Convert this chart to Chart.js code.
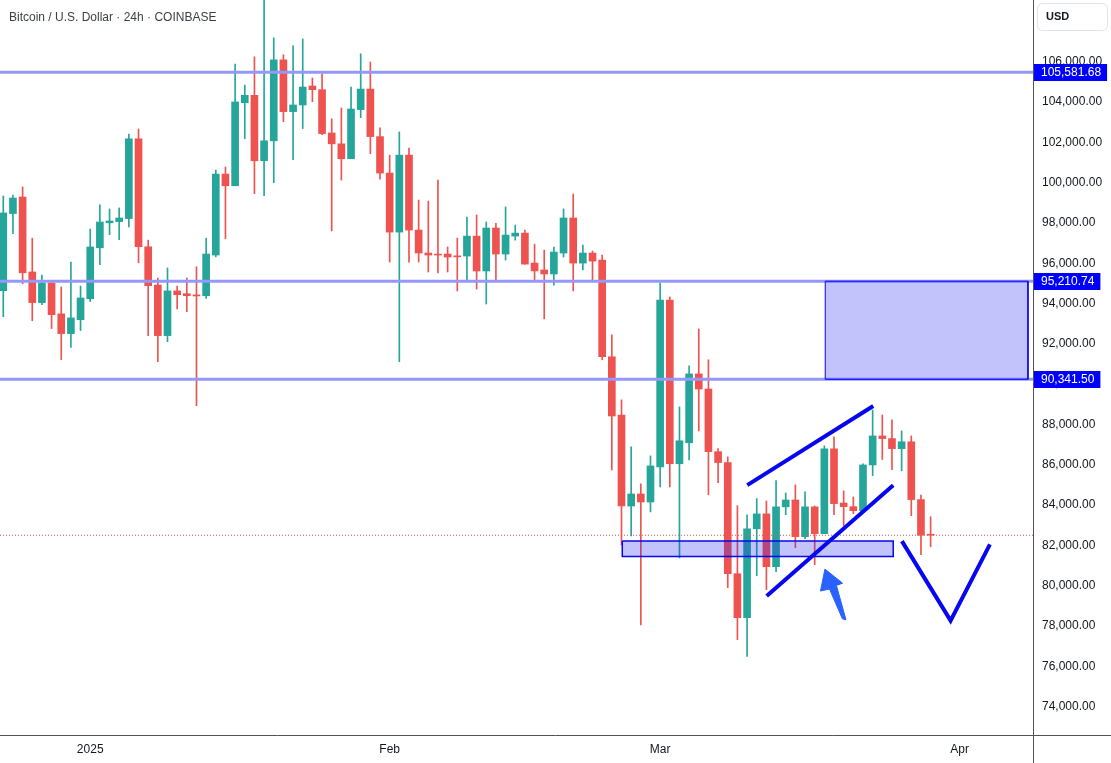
<!DOCTYPE html>
<html>
<head>
<meta charset="utf-8">
<title>BTCUSD 24h</title>
<script src="https://cdn.jsdelivr.net/npm/chart.js@4.4.1/dist/chart.umd.min.js"></script>
<style>
  html, body { margin: 0; padding: 0; background: #ffffff; }
  canvas { display: block; }
</style>
</head>
<body>
<canvas id="btcChart" width="1111" height="763"></canvas>
<script>
// --- DATA ---
const dates = [
  "2024-12-23", "2024-12-24", "2024-12-25", "2024-12-26", "2024-12-27", "2024-12-28", "2024-12-29", "2024-12-30", "2024-12-31",
  "2025-01-01", "2025-01-02", "2025-01-03", "2025-01-04", "2025-01-05", "2025-01-06", "2025-01-07", "2025-01-08", "2025-01-09", "2025-01-10",
  "2025-01-11", "2025-01-12", "2025-01-13", "2025-01-14", "2025-01-15", "2025-01-16", "2025-01-17", "2025-01-18", "2025-01-19", "2025-01-20",
  "2025-01-21", "2025-01-22", "2025-01-23", "2025-01-24", "2025-01-25", "2025-01-26", "2025-01-27", "2025-01-28", "2025-01-29", "2025-01-30", "2025-01-31",
  "2025-02-01", "2025-02-02", "2025-02-03", "2025-02-04", "2025-02-05", "2025-02-06", "2025-02-07", "2025-02-08", "2025-02-09", "2025-02-10",
  "2025-02-11", "2025-02-12", "2025-02-13", "2025-02-14", "2025-02-15", "2025-02-16", "2025-02-17", "2025-02-18", "2025-02-19", "2025-02-20",
  "2025-02-21", "2025-02-22", "2025-02-23", "2025-02-24", "2025-02-25", "2025-02-26", "2025-02-27", "2025-02-28",
  "2025-03-01", "2025-03-02", "2025-03-03", "2025-03-04", "2025-03-05", "2025-03-06", "2025-03-07", "2025-03-08", "2025-03-09", "2025-03-10",
  "2025-03-11", "2025-03-12", "2025-03-13", "2025-03-14", "2025-03-15", "2025-03-16", "2025-03-17", "2025-03-18", "2025-03-19", "2025-03-20",
  "2025-03-21", "2025-03-22", "2025-03-23", "2025-03-24", "2025-03-25", "2025-03-26", "2025-03-27", "2025-03-28", "2025-03-29"
];

const open = [
  94740, 98570, 99390, 95670, 94150, 95120, 93590, 92610, 93300, 94340,
  96870, 98110, 98170, 98320, 102280, 96920, 95020, 92510, 94730, 94590,
  94530, 94490, 96510, 100530, 99950, 104070, 104440, 101190, 102180, 106200,
  103630, 103960, 104900, 104720, 102570, 102030, 101290, 103730, 104750, 102390,
  100580, 97650, 101470, 97750, 96610, 96560, 96560, 96470, 96460, 97450,
  95720, 97850, 96560, 97450, 97600, 96110, 95770, 95570, 96610, 98350,
  96110, 96610, 96260, 91460, 88570, 84050, 84650, 84250, 85990, 94280,
  86150, 87190, 90610, 89860, 86750, 86210, 80690, 78510, 82920, 83660,
  81040, 84010, 84350, 82530, 84010, 82680, 86890, 84200, 84020, 83820,
  86090, 87530, 87400, 86900, 87240, 84370, 82630
];
const high = [
  99440, 99490, 99890, 97350, 95520, 95170, 94920, 96160, 94970, 97800,
  99000, 98800, 98850, 102520, 102770, 97250, 95370, 95870, 94970, 95370,
  95930, 97350, 100730, 100880, 105990, 104950, 106350, 109650, 107290, 106450,
  106890, 107240, 105300, 105500, 103270, 103810, 104850, 106500, 106090, 102820,
  101470, 102620, 101820, 99240, 99190, 100230, 96910, 97350, 98400, 98500,
  98150, 98090, 98900, 98000, 97750, 97050, 96760, 96910, 98800, 99540,
  97000, 96710, 96510, 92550, 89320, 86990, 85150, 86540, 95120, 94430,
  88970, 91010, 92840, 91310, 86900, 86490, 84070, 83610, 84420, 84300,
  85310, 84700, 85100, 84750, 84050, 87040, 87480, 84800, 84500, 86150,
  88820, 88570, 88330, 87780, 87530, 84600, 83520
];
const low = [
  93450, 97570, 95090, 93250, 94050, 92860, 91320, 91920, 92760, 94200,
  96030, 97520, 97270, 97910, 96130, 92510, 91220, 92210, 93830, 93700,
  89030, 94360, 96420, 97320, 99950, 102290, 99560, 99460, 100100, 103130,
  101240, 102790, 104120, 102490, 97710, 100230, 101290, 103330, 101540, 100280,
  96160, 91210, 96160, 96160, 95670, 95620, 95670, 94730, 95270, 94820,
  94080, 95220, 96260, 97250, 96060, 95270, 93340, 95020, 96410, 94730,
  95770, 95270, 91310, 85840, 82120, 82570, 78150, 83760, 85000, 85000,
  81470, 86340, 87780, 84610, 85210, 80000, 77420, 76580, 80590, 79900,
  80790, 83620, 81980, 82430, 81140, 82680, 83620, 83080, 83670, 83820,
  85560, 86360, 85850, 85800, 83570, 81630, 82030
];
const close = [
  98600, 99340, 95630, 94150, 95120, 93550, 92610, 93390, 94380, 96910,
  98150, 98200, 98350, 102280, 96920, 94990, 92510, 94730, 94540, 94490,
  94480, 96560, 100530, 99950, 104110, 104440, 101190, 102180, 106200, 103630,
  103960, 104850, 104720, 102540, 102030, 101290, 103760, 104750, 102390, 100580,
  97650, 101470, 97750, 96610, 96510, 96510, 96410, 96420, 97450, 95720,
  97850, 96560, 97500, 97600, 96060, 95720, 95570, 96660, 98350, 96110,
  96610, 96210, 91460, 88520, 84050, 84650, 84250, 86040, 94280, 86150,
  87290, 90610, 89860, 86750, 86210, 80690, 78510, 82920, 83660, 81040,
  84010, 84350, 82530, 84010, 82680, 86890, 84170, 84020, 83820, 86090,
  87530, 87400, 86900, 87240, 84370, 82600, 82600
];

// axis ticks
const priceTicks = [74000, 76000, 78000, 80000, 82000, 84000, 86000, 88000, 90000,
  92000, 94000, 96000, 98000, 100000, 102000, 104000, 106000];
const monthTickDates = ["2025-01-01", "2025-02-01", "2025-03-01", "2025-04-01"];
const monthLabels = ["2025", "Feb", "Mar", "Apr"];

// visible range (day index / price)
const X_MIN = -0.34, X_MAX = 106.6;
const Y_MIN = 72684, Y_MAX = 109171;

// drawings on the chart (day index, price)
const levels = [105581.68, 95210.74, 90341.50];
const channelUpper = [{ x: 77.02, y: 85090 }, { x: 90.06, y: 89015 }];
const channelLower = [{ x: 79.03, y: 79590 }, { x: 92.13, y: 85080 }];
const vPath = [{ x: 93.03, y: 82310 }, { x: 98.07, y: 78360 }, { x: 102.14, y: 82150 }];
const zoneUpper = { x0: 85.09, x1: 106.08, y0: 90341.50, y1: 95210.74 };
const zoneLower = { x0: 64.08, x1: 92.13, y0: 81550, y1: 82310 };
const arrowShape = [
  { x: 85.06, y: 80920 }, { x: 86.89, y: 80220 }, { x: 86.25, y: 80110 },
  { x: 87.24, y: 78400 }, { x: 86.87, y: 78450 }, { x: 85.53, y: 79930 },
  { x: 84.60, y: 79830 }, { x: 85.06, y: 80920 }
];

// --- STYLE ---
const UP = "#26a69a";
const DOWN = "#ef5350";
const LEVEL_COLOR = "#9598fa";
const DRAW_BLUE = "#0606f0";
const FONT = "'Liberation Sans', Arial, sans-serif";
const TEXT = "#131722";
const FRAME = "#50535e";

const dayIndex = s => (Date.parse(s) - Date.parse(dates[0])) / 86400000;
const monthTicks = monthTickDates.map(dayIndex);
const fmtPrice = v => v.toLocaleString("en-US", { minimumFractionDigits: 2, maximumFractionDigits: 2 });

const barColors = open.map((o, i) => close[i] >= o ? UP : DOWN);
const wicks = dates.map((d, i) => ({ x: i, y: [low[i], high[i]] }));
const bodies = dates.map((d, i) => ({ x: i, y: [open[i], close[i]] }));
const lastClose = close[close.length - 1];

const rectPath = z => [
  { x: z.x0, y: z.y1 }, { x: z.x1, y: z.y1 }, { x: z.x1, y: z.y0 },
  { x: z.x0, y: z.y0 }, { x: z.x0, y: z.y1 }
];

const lineBase = { type: "line", pointRadius: 0, pointHoverRadius: 0, tension: 0, fill: false };

const datasets = [
  { type: "bar", label: "wicks", data: wicks, backgroundColor: barColors, barThickness: 1, grouped: false, order: 11 },
  { type: "bar", label: "bodies", data: bodies, backgroundColor: barColors, barThickness: 7, grouped: false, minBarLength: 1, order: 10 },
  { ...lineBase, label: "last", data: [{ x: X_MIN, y: lastClose }, { x: X_MAX, y: lastClose }],
    borderColor: DOWN, borderWidth: 1, borderDash: [1, 2], order: 7 },
  ...levels.map(v => ({ ...lineBase, label: "level", data: [{ x: X_MIN, y: v }, { x: X_MAX, y: v }],
    borderColor: LEVEL_COLOR, borderWidth: 3, order: 6 })),
  { ...lineBase, label: "zoneUpper", data: rectPath(zoneUpper), fill: "shape",
    backgroundColor: "rgba(40, 40, 245, 0.28)", borderColor: DRAW_BLUE, borderWidth: 1, order: 5 },
  { ...lineBase, label: "zoneLower", data: rectPath(zoneLower), fill: "shape",
    backgroundColor: "rgba(40, 40, 245, 0.28)", borderColor: DRAW_BLUE, borderWidth: 1.5, order: 5 },
  { ...lineBase, label: "channelUpper", data: channelUpper, borderColor: DRAW_BLUE, borderWidth: 4, order: 2 },
  { ...lineBase, label: "channelLower", data: channelLower, borderColor: DRAW_BLUE, borderWidth: 4, order: 2 },
  { ...lineBase, label: "vPath", data: vPath, borderColor: DRAW_BLUE, borderWidth: 4, order: 2 },
  { ...lineBase, label: "arrow", data: arrowShape, fill: "shape",
    backgroundColor: "#2962ff", borderColor: "#2962ff", borderWidth: 1, order: 1 }
];

// title, axis frame, level tags and currency box
const overlayPlugin = {
  id: "tvOverlay",
  afterDraw(chart) {
    const { ctx, chartArea } = chart;
    const yScale = chart.scales.y;
    ctx.save();

    ctx.strokeStyle = FRAME;
    ctx.lineWidth = 1;
    ctx.beginPath();
    ctx.moveTo(0, chartArea.bottom + 0.5);
    ctx.lineTo(chart.width, chartArea.bottom + 0.5);
    ctx.moveTo(chartArea.right + 0.5, 0);
    ctx.lineTo(chartArea.right + 0.5, chart.height);
    ctx.stroke();

    ctx.font = "12px " + FONT;
    ctx.textBaseline = "middle";
    levels.forEach(v => {
      const py = yScale.getPixelForValue(v);
      const txt = fmtPrice(v);
      const w = ctx.measureText(txt).width;
      ctx.fillStyle = "#0000ff";
      ctx.fillRect(chartArea.right + 1, Math.round(py) - 8, w + 13, 17);
      ctx.fillStyle = "#ffffff";
      ctx.fillText(txt, chartArea.right + 8, py + 0.5);
    });

    ctx.fillStyle = "#ffffff";
    ctx.strokeStyle = "#e0e3eb";
    ctx.beginPath();
    ctx.roundRect(chartArea.right + 4.5, 3.5, 70, 27, 5);
    ctx.fill();
    ctx.stroke();
    ctx.fillStyle = TEXT;
    ctx.font = "bold 11px " + FONT;
    ctx.fillText("USD", chartArea.right + 13, 17);

    ctx.font = "12px " + FONT;
    ctx.fillStyle = "#3b3e48";
    ctx.textBaseline = "alphabetic";
    ctx.fillText("Bitcoin / U.S. Dollar \u00b7 24h \u00b7 COINBASE", 9, 21);

    ctx.restore();
  }
};

const btcChart = new Chart(document.getElementById("btcChart"), {
  type: "bar",
  data: { datasets: datasets },
  options: {
    responsive: false,
    animation: false,
    layout: { padding: 0 },
    plugins: { legend: { display: false }, tooltip: { enabled: false } },
    scales: {
      x: {
        type: "linear",
        min: X_MIN,
        max: X_MAX,
        offset: false,
        grid: { display: false, drawTicks: false },
        border: { display: false },
        ticks: {
          font: { family: FONT, size: 12 },
          color: TEXT,
          padding: 7,
          maxRotation: 0,
          autoSkip: false,
          callback: (v, i) => monthLabels[i]
        },
        afterBuildTicks: s => { s.ticks = monthTicks.map(v => ({ value: v })); },
        afterFit: s => { s.height = 28; s.paddingLeft = 0; s.paddingRight = 0; }
      },
      y: {
        type: "linear",
        position: "right",
        min: Y_MIN,
        max: Y_MAX,
        grid: { display: false, drawTicks: false },
        border: { display: false },
        ticks: {
          font: { family: FONT, size: 12 },
          color: TEXT,
          padding: 9,
          labelOffset: -2,
          callback: v => fmtPrice(v)
        },
        afterBuildTicks: s => { s.ticks = priceTicks.map(v => ({ value: v })); },
        afterFit: s => { s.width = 78; s.paddingTop = 0; s.paddingBottom = 0; }
      }
    }
  },
  plugins: [overlayPlugin]
});
</script>
</body>
</html>
